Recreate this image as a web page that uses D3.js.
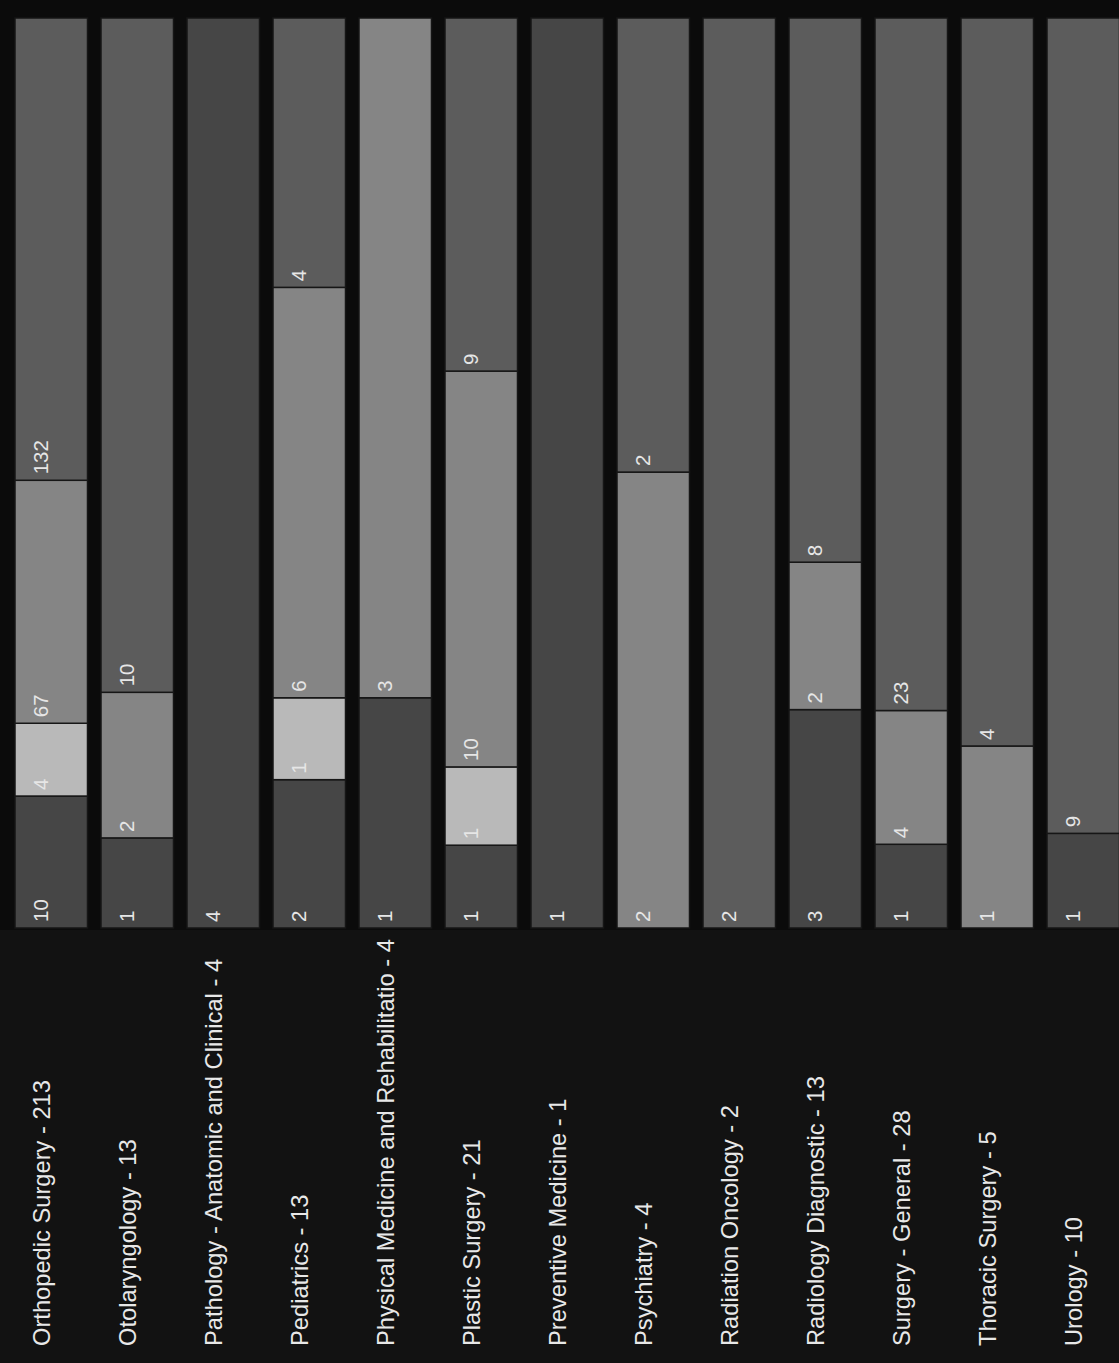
<!DOCTYPE html>
<html>
<head>
<meta charset="utf-8">
<script src="https://cdn.jsdelivr.net/npm/d3@7"></script>
<style>
  html, body { margin: 0; padding: 0; background: #0b0b0b; }
  svg { display: block; }
</style>
</head>
<body>
<script>
// ---- data ----
const categories = [
  "Orthopedic Surgery", "Otolaryngology", "Pathology - Anatomic and Clinical",
  "Pediatrics", "Physical Medicine and Rehabilitatio", "Plastic Surgery",
  "Preventive Medicine", "Psychiatry", "Radiation Oncology",
  "Radiology Diagnostic", "Surgery - General", "Thoracic Surgery", "Urology"
];
const seriesNames = ["Group 1", "Group 2", "Group 3", "Group 4"];
// counts shown as segment labels
const counts1 = [10, 1, 4, 2, 1, 1, 1, null, null, 3, 1, null, 1];
const counts2 = [4, null, null, 1, null, 1, null, null, null, null, null, null, null];
const counts3 = [67, 2, null, 6, 3, 10, null, 2, null, 2, 4, 1, null];
const counts4 = [132, 10, null, 4, null, 9, null, 2, 2, 8, 23, 4, 9];
// segment shares (% of each bar)
const share1 = [14.5, 9.9, 100, 16.3, 25.3, 9.1, 100, 0, 0, 24.0, 9.2, 0, 10.4];
const share2 = [8.0, 0, 0, 9.0, 0, 8.6, 0, 0, 0, 0, 0, 0, 0];
const share3 = [26.7, 16.0, 0, 45.1, 74.7, 43.5, 0, 50.1, 0, 16.2, 14.7, 20.0, 0];
const share4 = [50.8, 74.1, 0, 29.6, 0, 38.8, 0, 49.9, 100, 59.8, 76.1, 80.0, 89.6];
const seriesColors = ["#464646", "#b9b9b9", "#858585", "#5c5c5c"];

// ---- build ----
const W = 1119, H = 1363;
const countsAll = [counts1, counts2, counts3, counts4];
const sharesAll = [share1, share2, share3, share4];

const rows = categories.map((c, i) => {
  const r = { cat: c };
  seriesNames.forEach((s, k) => { r[s] = sharesAll[k][i]; });
  r.total = d3.sum(countsAll, a => a[i] || 0);
  return r;
});

const svg = d3.select("body").append("svg").attr("width", W).attr("height", H);
svg.append("rect").attr("width", W).attr("height", H).attr("fill", "#0b0b0b");
svg.append("rect").attr("x", 0).attr("y", 930).attr("width", W).attr("height", H - 930).attr("fill", "#121212");

const x = d3.scaleBand().domain(categories).range([15, 1119.5]).paddingInner(0.157).paddingOuter(0);
const y = d3.scaleLinear().domain([0, 100]).range([928, 18]);

const stacked = d3.stack().keys(seriesNames)(rows);

const g = svg.append("g");
stacked.forEach((layer, k) => {
  g.selectAll(null)
    .data(layer.map((d, i) => ({ d, i, k })).filter(o => sharesAll[k][o.i] > 0))
    .join("rect")
    .attr("x", o => x(categories[o.i]))
    .attr("width", x.bandwidth())
    .attr("y", o => y(o.d[1]))
    .attr("height", o => y(o.d[0]) - y(o.d[1]))
    .attr("fill", seriesColors[k])
    .attr("stroke", "#161616")
    .attr("stroke-width", 1.5);
});

// value labels
stacked.forEach((layer, k) => {
  g.selectAll(null)
    .data(layer.map((d, i) => ({ d, i, k })).filter(o => sharesAll[k][o.i] > 0))
    .join("text")
    .attr("transform", o => `translate(${x(categories[o.i]) + x.bandwidth() / 2 - 3},${y(o.d[0]) - 6}) rotate(-90)`)
    .attr("font-family", "'Liberation Sans', Arial, sans-serif")
    .attr("font-size", 20.5)
    .attr("fill", "#e6e6e6")
    .attr("text-anchor", "start")
    .text(o => countsAll[k][o.i]);
});

// category labels
svg.append("g").selectAll("text")
  .data(rows)
  .join("text")
  .attr("transform", d => `translate(${x(d.cat) + x.bandwidth() / 2 - 1},1346) rotate(-90)`)
  .attr("font-family", "'Liberation Sans', Arial, sans-serif")
  .attr("font-size", 23.7)
  .attr("fill", "#e8e8e8")
  .attr("text-anchor", "start")
  .text(d => `${d.cat} - ${d.total}`);
</script>
</body>
</html>
